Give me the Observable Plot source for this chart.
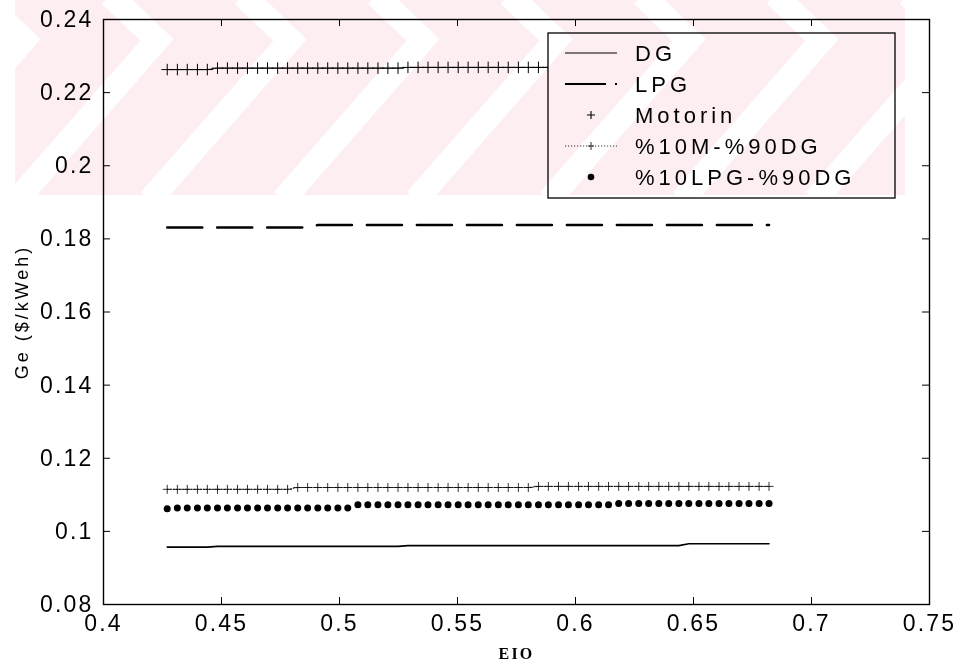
<!DOCTYPE html>
<html><head><meta charset="utf-8">
<script src="https://cdn.jsdelivr.net/npm/d3@7"></script>
<script src="https://cdn.jsdelivr.net/npm/@observablehq/plot@0.6"></script>
<style>
body{margin:0;background:#fff;}
#wrap{position:relative;width:962px;height:663px;overflow:hidden;}
#wm{position:absolute;left:0;top:0;mix-blend-mode:multiply;pointer-events:none;}
</style></head><body><div id="wrap"></div>
<script>
// ---- data ----
const eio = [0.4270,0.4313,0.4355,0.4398,0.4440,0.4483,0.4525,0.4568,0.4610,0.4653,
  0.4695,0.4738,0.4780,0.4823,0.4865,0.4908,0.4950,0.4993,0.5035,0.5078,
  0.5120,0.5163,0.5205,0.5248,0.5290,0.5333,0.5375,0.5418,0.5460,0.5503,
  0.5545,0.5588,0.5630,0.5673,0.5715,0.5758,0.5800,0.5843,0.5885,0.5928,
  0.5970,0.6013,0.6055,0.6098,0.6140,0.6183,0.6225,0.6268,0.6310,0.6353,
  0.6395,0.6438,0.6480,0.6523,0.6565,0.6608,0.6650,0.6693,0.6735,0.6778,
  0.6820];
const dg = [0.0957,0.0957,0.0957,0.0957,0.0957,0.0959,0.0959,0.0959,0.0959,0.0959,
  0.0959,0.0959,0.0959,0.0959,0.0959,0.0959,0.0959,0.0959,0.0959,0.0959,
  0.0959,0.0959,0.0959,0.0959,0.0961,0.0961,0.0961,0.0961,0.0961,0.0961,
  0.0961,0.0961,0.0961,0.0961,0.0961,0.0961,0.0961,0.0961,0.0961,0.0961,
  0.0961,0.0961,0.0961,0.0961,0.0961,0.0961,0.0961,0.0961,0.0961,0.0961,
  0.0961,0.0961,0.0966,0.0966,0.0966,0.0966,0.0966,0.0966,0.0966,0.0966,
  0.0966];
const lpg = [0.1831,0.1831,0.1831,0.1831,0.1831,0.1831,0.1831,0.1831,0.1831,0.1831,
  0.1831,0.1831,0.1831,0.1831,0.1831,0.1838,0.1838,0.1838,0.1838,0.1838,
  0.1838,0.1838,0.1838,0.1838,0.1838,0.1838,0.1838,0.1838,0.1838,0.1838,
  0.1838,0.1838,0.1838,0.1838,0.1838,0.1838,0.1838,0.1838,0.1838,0.1838,
  0.1838,0.1838,0.1838,0.1838,0.1838,0.1838,0.1838,0.1838,0.1838,0.1838,
  0.1838,0.1838,0.1838,0.1838,0.1838,0.1838,0.1838,0.1838,0.1838,0.1838,
  0.1838];
const motorin = [0.2263,0.2263,0.2263,0.2263,0.2263,0.2267,0.2267,0.2267,0.2267,0.2267,
  0.2267,0.2267,0.2267,0.2267,0.2267,0.2267,0.2267,0.2267,0.2267,0.2267,
  0.2267,0.2267,0.2267,0.2267,0.2269,0.2269,0.2269,0.2269,0.2269,0.2269,
  0.2269,0.2269,0.2269,0.2269,0.2269,0.2269,0.2269,0.2269,0.2269,0.2269,
  0.2269,0.2269,0.2269,0.2269,0.2269,0.2269,0.2269,0.2269,0.2269,0.2269,
  0.2269,0.2269,0.2269,0.2269,0.2269,0.2269,0.2269,0.2269,0.2269,0.2269,
  0.2269];
const m10dg90 = [0.1115,0.1115,0.1115,0.1115,0.1115,0.1115,0.1115,0.1115,0.1115,0.1115,
  0.1115,0.1115,0.1115,0.1120,0.1120,0.1120,0.1120,0.1120,0.1120,0.1120,
  0.1120,0.1120,0.1120,0.1120,0.1120,0.1120,0.1120,0.1120,0.1120,0.1120,
  0.1120,0.1120,0.1120,0.1120,0.1120,0.1120,0.1120,0.1123,0.1123,0.1123,
  0.1123,0.1123,0.1123,0.1123,0.1123,0.1123,0.1123,0.1123,0.1123,0.1123,
  0.1123,0.1123,0.1123,0.1123,0.1123,0.1123,0.1123,0.1123,0.1123,0.1123,
  0.1123];
const lpg10dg90 = [0.1062,0.1064,0.1064,0.1064,0.1064,0.1064,0.1064,0.1064,0.1064,0.1064,
  0.1064,0.1064,0.1064,0.1064,0.1064,0.1064,0.1064,0.1064,0.1064,0.1073,
  0.1073,0.1073,0.1073,0.1073,0.1073,0.1073,0.1073,0.1073,0.1073,0.1073,
  0.1073,0.1073,0.1073,0.1073,0.1073,0.1073,0.1073,0.1073,0.1073,0.1073,
  0.1073,0.1073,0.1073,0.1073,0.1073,0.1076,0.1076,0.1076,0.1076,0.1076,
  0.1076,0.1076,0.1076,0.1076,0.1076,0.1076,0.1076,0.1076,0.1076,0.1076,
  0.1076];
const seriesNames = ["DG","LPG","Motorin","%10M-%90DG","%10LPG-%90DG"];
const xTicks = [0.4,0.45,0.5,0.55,0.6,0.65,0.7,0.75];
const xTickLabels = ["0.4","0.45","0.5","0.55","0.6","0.65","0.7","0.75"];
const yTicks = [0.08,0.1,0.12,0.14,0.16,0.18,0.2,0.22,0.24];
const yTickLabels = ["0.08","0.1","0.12","0.14","0.16","0.18","0.2","0.22","0.24"];
const xLabel = "EIO";
const yLabel = "Ge ($/kWeh)";

const rows = eio.map((x, i) => ({x, dg: dg[i], lpg: lpg[i], motorin: motorin[i], m10: m10dg90[i], lpg10: lpg10dg90[i]}));

const W = 962, H = 663, mL = 103, mR = 33, mT = 19, mB = 59;
const pw = W - mL - mR, ph = H - mT - mB;
const tick = 7;

const chart = Plot.plot({
  width: W, height: H,
  marginLeft: mL, marginRight: mR, marginTop: mT, marginBottom: mB,
  style: {fontFamily: "'Liberation Sans', Arial, sans-serif", fontSize: "23px", background: "transparent", color: "black"},
  x: {domain: [0.4, 0.75]},
  y: {domain: [0.08, 0.24]},
  marks: [
    // data
    Plot.line(rows, {x: "x", y: "dg", stroke: "black", strokeWidth: 1.6}),
    Plot.line(rows, {x: "x", y: "lpg", stroke: "black", strokeWidth: 2.6, strokeDasharray: "35,15"}),
    Plot.line(rows, {x: "x", y: "motorin", stroke: "black", strokeWidth: 0.9}),
    Plot.dot(rows, {x: "x", y: "motorin", symbol: "plus", r: 3.8, stroke: "black", strokeWidth: 1}),
    Plot.line(rows, {x: "x", y: "m10", stroke: "#222", strokeWidth: 1, strokeDasharray: "1.2,1.8"}),
    Plot.dot(rows, {x: "x", y: "m10", symbol: "plus", r: 3, stroke: "black", strokeWidth: 0.8}),
    Plot.dot(rows, {x: "x", y: "lpg10", r: 3.5, fill: "black", stroke: "none"}),
    // frame and inward ticks
    Plot.frame({stroke: "black", strokeWidth: 1.4}),
    Plot.tickX(xTicks, {x: d => d, insetTop: ph - tick, stroke: "black"}),
    Plot.tickX(xTicks, {x: d => d, insetBottom: ph - tick, stroke: "black"}),
    Plot.tickY(yTicks, {y: d => d, insetRight: pw - tick, stroke: "black"}),
    Plot.tickY(yTicks, {y: d => d, insetLeft: pw - tick, stroke: "black"}),
    // tick labels
    Plot.axisX(xTicks, {anchor: "bottom", tickSize: 0, tickPadding: 10, fontSize: 23,
      tickFormat: d => xTickLabels[xTicks.indexOf(d)], label: null}),
    Plot.axisY(yTicks, {anchor: "left", tickSize: 0, tickPadding: 10, fontSize: 23,
      tickFormat: d => yTickLabels[yTicks.indexOf(d)], label: null}),
    // axis titles
    Plot.text([xLabel], {frameAnchor: "bottom", dy: 49, fontSize: 16, fontWeight: "bold", fontFamily: "'Liberation Serif', 'Times New Roman', serif", lineAnchor: "middle", textAnchor: "middle"}),
    Plot.text([yLabel], {frameAnchor: "left", dx: -81, rotate: -90, fontSize: 18, lineAnchor: "middle", textAnchor: "middle"})
  ]
});

const svg = d3.select(chart);
svg.selectAll("text").style("letter-spacing", "2.2px");
svg.selectAll("text").filter(function() { return this.textContent === yLabel; }).style("letter-spacing", "3px");

// legend
const lg = svg.append("g").attr("font-family", "'Liberation Sans', Arial, sans-serif").attr("font-size", 22).attr("text-anchor", "start");
lg.append("rect").attr("x", 548).attr("y", 33).attr("width", 347).attr("height", 165)
  .attr("fill", "white").attr("stroke", "black").attr("stroke-width", 1.3);
const ly = [53, 84, 115, 146, 177];
const sx0 = 565, sx1 = 617, sxm = 591, tx = 635;
lg.append("line").attr("x1", sx0).attr("x2", sx1).attr("y1", ly[0]).attr("y2", ly[0]).attr("stroke", "black").attr("stroke-width", 1.2);
lg.append("line").attr("x1", sx0).attr("x2", sx1).attr("y1", ly[1]).attr("y2", ly[1]).attr("stroke", "black").attr("stroke-width", 2.2).attr("stroke-dasharray", "41,9,2,20");
lg.append("path").attr("d", `M${sxm-4},${ly[2]}h8M${sxm},${ly[2]-4}v8`).attr("stroke", "black").attr("stroke-width", 1.1);
lg.append("line").attr("x1", sx0).attr("x2", sx1).attr("y1", ly[3]).attr("y2", ly[3]).attr("stroke", "#333").attr("stroke-width", 1).attr("stroke-dasharray", "1.2,1.8");
lg.append("path").attr("d", `M${sxm-3},${ly[3]}h6M${sxm},${ly[3]-4}v8`).attr("stroke", "black").attr("stroke-width", 0.8);
lg.append("circle").attr("cx", sxm).attr("cy", ly[4]).attr("r", 3.3).attr("fill", "black");
seriesNames.forEach((s, i) => {
  lg.append("text").attr("x", tx).attr("y", ly[i]).attr("dy", "0.36em").attr("text-anchor", "start")
    .style("letter-spacing", "4px").text(s);
});

const wrap = document.getElementById("wrap");
wrap.appendChild(chart);

// faint watermark band at the top (multiplied over the page)
const wm = d3.select(wrap).append("svg").attr("id", "wm").attr("width", W).attr("height", H);
const defs = wm.append("defs");
defs.append("clipPath").attr("id", "wmclip").append("rect").attr("x", 15).attr("y", 0).attr("width", 890).attr("height", 195);
const wg = wm.append("g").attr("clip-path", "url(#wmclip)");
wg.append("rect").attr("x", 0).attr("y", 0).attr("width", W).attr("height", 195).attr("fill", "#fdeef1");
for (let k = -2; k < 10; k++) {
  const x0 = 157 + k * 133;
  wg.append("polyline").attr("points", `${x0-47},-5 ${x0},40 ${x0-140},200`)
    .attr("fill", "none").attr("stroke", "white").attr("stroke-width", 24);
}
</script>
</body></html>
